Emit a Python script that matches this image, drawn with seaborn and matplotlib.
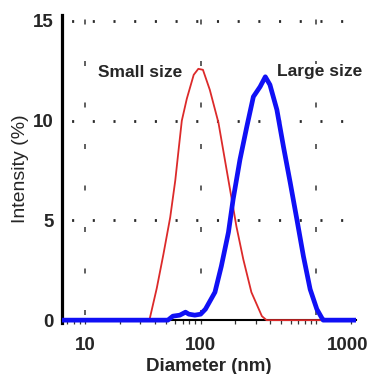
import numpy as np
import pandas as pd
import matplotlib
matplotlib.use("Agg")
import matplotlib.pyplot as plt
from matplotlib.transforms import ScaledTranslation
import matplotlib.ticker as mticker
import seaborn as sns

# ---- data ----
small_d = [6.3, 36, 41.7, 47.6, 54.5, 60.3, 64.6, 68.7, 75.9, 87.1, 95.5, 104.7,
           120, 142.6, 162, 186, 204, 234, 275, 339, 372, 2200]
small_i = [0, 0, 1.6, 3.3, 5.15, 7.0, 8.6, 10.0, 11.1, 12.3, 12.6, 12.55,
           11.55, 9.9, 8.05, 6.05, 4.7, 3.05, 1.4, 0.2, 0, 0]

large_d = [6.3, 52, 57.5, 66, 74, 79, 89, 100, 110, 133, 151, 174, 191, 219, 251,
           286, 327, 363, 398, 457, 521, 596, 681, 776, 887, 1014, 1122, 1150, 2200]
large_i = [0, 0, 0.2, 0.25, 0.4, 0.3, 0.25, 0.3, 0.55, 1.4, 2.7, 4.4, 6.05, 8.05, 9.7,
           11.2, 11.7, 12.2, 11.8, 10.55, 8.7, 6.9, 5.05, 3.2, 1.55, 0.55, 0.1, 0, 0]

x_ticks = [10, 100, 1000]
x_ticklabels = ["10", "100", "1000"]
y_ticks = [0, 5, 10, 15]
y_ticklabels = ["0", "5", "10", "15"]

small_df = pd.DataFrame({"Diameter": small_d, "Intensity": small_i})
large_df = pd.DataFrame({"Diameter": large_d, "Intensity": large_i})

sns.set_style("white")
plt.rcParams["font.family"] = ["Liberation Sans", "DejaVu Sans"]

fig = plt.figure(figsize=(3.71, 3.74), dpi=100)
ax = fig.add_axes([0.167, 0.136, 0.793, 0.824])

sns.lineplot(data=small_df, x="Diameter", y="Intensity", ax=ax, color="#dc2a2a",
             lw=1.3, estimator=None, sort=False, zorder=3)
sns.lineplot(data=large_df, x="Diameter", y="Intensity", ax=ax, color="#1010f5",
             lw=3.4, estimator=None, sort=False, zorder=4)

ax.set_xscale("log")
ax.set_xlim(6.3, 2220)
ax.set_ylim(-0.15, 15.3)

# grid: dotted horizontals, dashed verticals
for yv in y_ticks[1:]:
    ax.axhline(yv, color="#2a2a2a", lw=2.0, ls=(4, (0.75, 6.7)), zorder=1)
for xv in x_ticks:
    ax.axvline(xv, ymin=0.028, color="#444444", lw=1.2, ls=(0, (3, 21.9)), zorder=1)

ax.xaxis.set_minor_locator(mticker.LogLocator(base=10, subs=np.arange(2, 10)))
ax.xaxis.set_minor_formatter(mticker.NullFormatter())
ax.tick_params(axis="x", which="both", direction="out", length=3, width=0.9,
               color="#333333", pad=9, bottom=True)
ax.tick_params(axis="y", length=0, pad=6)

ax.set_xticks(x_ticks)
ax.set_xticklabels(x_ticklabels)
ax.set_yticks(y_ticks)
ax.set_yticklabels(y_ticklabels)

ax.set_xlabel("Diameter (nm)", fontsize=13.5, fontweight="bold", labelpad=3)
ax.set_ylabel("Intensity (%)", fontsize=14, labelpad=3)

for s in ["top", "right"]:
    ax.spines[s].set_visible(False)
ax.spines["left"].set_linewidth(2.3)
ax.spines["left"].set_color("black")
ax.spines["bottom"].set_position(("data", 0))
ax.spines["bottom"].set_linewidth(1.5)
ax.spines["bottom"].set_color("black")

box = dict(facecolor="white", edgecolor="none", pad=0.5)
ax.text(0.265, 0.812, "Small size", transform=ax.transAxes, ha="center", va="center",
        fontsize=12.5, fontweight="bold", bbox=box, zorder=5)
ax.text(0.875, 0.815, "Large size", transform=ax.transAxes, ha="center", va="center",
        fontsize=12.5, fontweight="bold", clip_on=False, bbox=box, zorder=5)

fig.canvas.draw()
for lab in ax.get_xticklabels() + ax.get_yticklabels():
    lab.set_fontsize(13.5)
    lab.set_fontweight("bold")
# the "1000" label sits to the right of its tick in the reference
lab = ax.get_xticklabels()[2]
lab.set_transform(lab.get_transform() + ScaledTranslation(0.31, 0, fig.dpi_scale_trans))

fig.savefig("out.png", dpi=100)
